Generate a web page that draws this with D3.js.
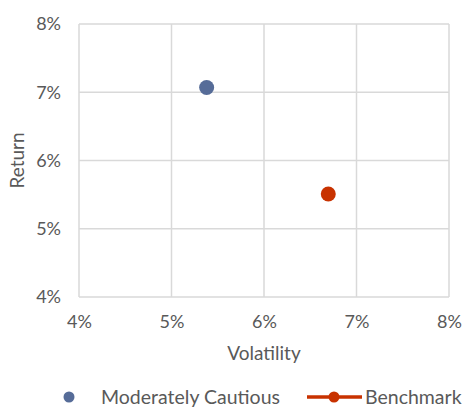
<!DOCTYPE html>
<html>
<head>
<meta charset="utf-8">
<script src="https://cdn.jsdelivr.net/npm/d3@7"></script>
<style>
  body { margin: 0; background: #fff; }
  svg { font-family: Lato, "Open Sans", sans-serif; }
</style>
</head>
<body>
<div id="chart"></div>
<script>
// data
const seriesNames = ['Moderately Cautious', 'Benchmark'];
const volatility = [5.38, 6.695];
const returns = [7.07, 5.51];
const colors = ['#566C98', '#C83200'];
const xTicks = [4, 5, 6, 7, 8];
const yTicks = [4, 5, 6, 7, 8];

const width = 462, height = 408;
const margin = { top: 24, right: 13, bottom: 111, left: 79 };

const svg = d3.select('#chart')
  .append('svg')
  .attr('width', width)
  .attr('height', height);

const x = d3.scaleLinear().domain([4, 8]).range([margin.left, width - margin.right]);
const y = d3.scaleLinear().domain([4, 8]).range([height - margin.bottom, margin.top]);

// grid
svg.append('g')
  .selectAll('line')
  .data(xTicks)
  .enter()
  .append('line')
  .attr('x1', d => x(d)).attr('x2', d => x(d))
  .attr('y1', y(8)).attr('y2', y(4))
  .attr('stroke', '#D9D9D9').attr('stroke-width', 1.5);

svg.append('g')
  .selectAll('line')
  .data(yTicks)
  .enter()
  .append('line')
  .attr('x1', x(4)).attr('x2', x(8))
  .attr('y1', d => y(d)).attr('y2', d => y(d))
  .attr('stroke', '#D9D9D9').attr('stroke-width', 1.5);

// axes (labels only)
const xAxis = svg.append('g')
  .attr('transform', `translate(0,${y(4)})`)
  .call(d3.axisBottom(x).tickValues(xTicks).tickFormat(d => d + '%').tickSize(0).tickPadding(18));
xAxis.select('.domain').remove();
xAxis.selectAll('text').attr('fill', '#595959').style('font-size', '18px').style('font-family', 'Lato, sans-serif');

const yAxis = svg.append('g')
  .attr('transform', `translate(${x(4)},0)`)
  .call(d3.axisLeft(y).tickValues(yTicks).tickFormat(d => d + '%').tickSize(0).tickPadding(18));
yAxis.select('.domain').remove();
yAxis.selectAll('text').attr('fill', '#595959').style('font-size', '18px').style('font-family', 'Lato, sans-serif');

// axis titles
svg.append('text')
  .attr('x', x(6)).attr('y', 360)
  .attr('text-anchor', 'middle')
  .attr('fill', '#595959')
  .style('font-size', '19px')
  .text('Volatility');

svg.append('text')
  .attr('transform', `translate(24,${y(6)}) rotate(-90)`)
  .attr('text-anchor', 'middle')
  .attr('fill', '#595959')
  .style('font-size', '19px')
  .text('Return');

// points
svg.append('g')
  .selectAll('circle')
  .data(volatility)
  .enter()
  .append('circle')
  .attr('cx', d => x(d))
  .attr('cy', (d, i) => y(returns[i]))
  .attr('r', 7.5)
  .attr('fill', (d, i) => colors[i]);

// legend
const legY = 397;
svg.append('circle').attr('cx', 69).attr('cy', legY).attr('r', 5.5).attr('fill', colors[0]);
svg.append('text').attr('x', 101).attr('y', legY + 7)
  .attr('fill', '#595959').style('font-size', '19.5px').text(seriesNames[0]);
svg.append('line').attr('x1', 307).attr('x2', 362).attr('y1', legY).attr('y2', legY)
  .attr('stroke', colors[1]).attr('stroke-width', 3.5);
svg.append('circle').attr('cx', 334).attr('cy', legY).attr('r', 5.5).attr('fill', colors[1]);
svg.append('text').attr('x', 365).attr('y', legY + 7)
  .attr('fill', '#595959').style('font-size', '19.5px').text(seriesNames[1]);
</script>
</body>
</html>
